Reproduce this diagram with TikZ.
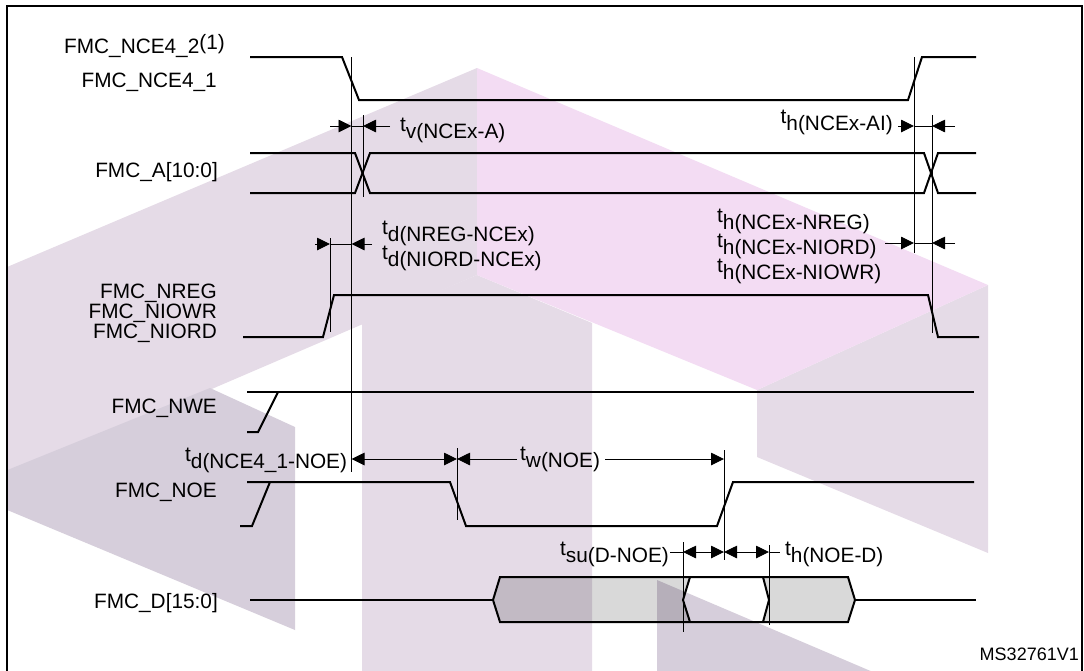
\documentclass[tikz,border=0pt]{standalone}
\usepackage{fontspec}
\setmainfont{Liberation Sans}
\usetikzlibrary{arrows.meta}
\definecolor{wmlav}{RGB}{229,219,231}
\definecolor{wmpink}{RGB}{243,220,243}
\definecolor{wmdark}{RGB}{214,206,219}
\newcommand{\tsub}[2]{#1\raisebox{-7pt}{#2}}
\begin{document}
\begin{tikzpicture}[x=1pt,y=-1pt,
  sig/.style={line width=2pt, line join=miter},
  vline/.style={line width=0.9pt},
  dimline/.style={line width=0.9pt},
  dimarr/.style={dimline, -{Triangle[length=13pt,width=12.5pt]}},
  dimarrb/.style={dimline, {Triangle[length=13pt,width=12.5pt]}-{Triangle[length=13pt,width=12.5pt]}},
  lbl/.style={inner sep=0pt, font=\fontsize{20.8pt}{24pt}\selectfont},
  smalllbl/.style={inner sep=0pt, font=\fontsize{18pt}{21pt}\selectfont},
  busfill/.style={fill=black, fill opacity=0.15}
]
\useasboundingbox (0,0) rectangle (1084,670);
% watermark
\begin{scope}
\clip (8,7) rectangle (1081,671);
\fill[wmlav] (0,270) -- (477,68) -- (477,275) -- (0,480) -- cycle;
\fill[wmlav] (362,323) -- (477,275) -- (592,323) -- (592,675) -- (362,675) -- cycle;
\fill[wmlav] (757,390) -- (988,285) -- (988,553) -- (757,457) -- cycle;
\fill[wmpink] (477,68) -- (988,285) -- (757,390) -- (477,275) -- cycle;
\fill[wmdark] (0,473) -- (210,388) -- (295,427) -- (295,630) -- (0,507) -- cycle;
\fill[wmdark] (657,580) -- (880,675) -- (657,675) -- cycle;
\end{scope}
% frame
\draw[line width=2pt] (7,675) -- (7,6) -- (1082,6) -- (1082,675);
% signals
\draw[sig] (250,57) -- (342,57) -- (359,100) -- (908,100) -- (922,57) -- (976,57);
\draw[sig] (250,153) -- (355,153) -- (370,193) -- (924,193) -- (938,153) -- (976,153);
\draw[sig] (250,193) -- (355,193) -- (370,153) -- (924,153) -- (938,193) -- (976,193);
\draw[sig] (243,337) -- (323,337) -- (334,295) -- (928,295) -- (938,337) -- (979,337);
\draw[sig] (247,392) -- (974,392);
\draw[sig] (247,432) -- (258,432) -- (278,392);
\draw[sig] (247,482) -- (450,482) -- (466,526) -- (717,526) -- (733,482) -- (974,482);
\draw[sig] (240,526) -- (252,526) -- (270,482);
% data bus
\fill[busfill] (493,600) -- (500,577) -- (690,577) -- (683,600) -- (690,622) -- (500,622) -- cycle;
\fill[busfill] (763,577) -- (848,577) -- (855,600) -- (848,622) -- (763,622) -- (769,600) -- cycle;
\draw[sig] (250,600) -- (493,600);
\draw[sig] (493,600) -- (500,577) -- (848,577) -- (855,600) -- (848,622) -- (500,622) -- cycle;
\draw[sig] (855,600) -- (976,600);
\draw[sig] (690,577) -- (683,600) -- (690,622);
\draw[sig] (763,577) -- (769,600) -- (763,622);
% marker lines
\draw[vline] (351.5,57) -- (351.5,472);
\draw[vline] (363,115) -- (363,197);
\draw[vline] (330,238) -- (330,332);
\draw[vline] (914,57) -- (914,253);
\draw[vline] (932,115) -- (932,333);
\draw[vline] (457,448) -- (457,520);
\draw[vline] (724,450) -- (724,560);
\draw[vline] (683,542) -- (683,632);
\draw[vline] (769,545) -- (769,625);
% dimension arrows
\draw[dimarr] (330,126) -- (351.5,126);
\draw[dimline] (351.5,126) -- (363,126);
\draw[dimarr] (390,126) -- (363,126);
\draw[dimarr] (315,244) -- (330,244);
\draw[dimline] (330,244) -- (351.5,244);
\draw[dimarr] (372,244) -- (351.5,244);
\draw[dimarr] (898,126) -- (914,126);
\draw[dimline] (914,126) -- (932,126);
\draw[dimarr] (955,126) -- (932,126);
\draw[dimarr] (885,243) -- (914,243);
\draw[dimline] (914,243) -- (932,243);
\draw[dimarr] (955,243) -- (932,243);
\draw[dimarrb] (351.5,459) -- (457,459);
\draw[dimarr] (517,459) -- (457,459);
\draw[dimarr] (605,459) -- (724,459);
\draw[dimline] (670,552) -- (683,552);
\draw[dimarrb] (683,552) -- (724,552);
\draw[dimarrb] (724,552) -- (769,552);
\draw[dimline] (769,552) -- (780,552);
% signal labels
\node[lbl, anchor=base east] (lnceb) at (225,53) {FMC\_NCE4\_2\raisebox{4pt}{(1)}};
\node[lbl, anchor=base east] (lncea) at (217,87) {FMC\_NCE4\_1};
\node[lbl, anchor=base east] (la) at (218,177) {FMC\_A[10:0]};
\node[lbl, anchor=base east] (lnreg) at (217,298) {FMC\_NREG};
\node[lbl, anchor=base east] (lniowr) at (217,318) {FMC\_NIOWR};
\node[lbl, anchor=base east] (lniord) at (217,338) {FMC\_NIORD};
\node[lbl, anchor=base east] (lnwe) at (217,413) {FMC\_NWE};
\node[lbl, anchor=base east] (lnoe) at (217,497) {FMC\_NOE};
\node[lbl, anchor=base east] (ld) at (218,608) {FMC\_D[15:0]};
\node[smalllbl, anchor=base east] (lms) at (1079,660) {MS32761V1};
% timing labels
\node[lbl, anchor=base west] (ttv) at (400,131) {\tsub{t}{v(NCEx-A)}};
\node[lbl, anchor=base east] (tthai) at (893,123) {\tsub{t}{h(NCEx-AI)}};
\node[lbl, anchor=base west] (ttdreg) at (382,234) {\tsub{t}{d(NREG-NCEx)}};
\node[lbl, anchor=base west] (ttdiord) at (382,259) {\tsub{t}{d(NIORD-NCEx)}};
\node[lbl, anchor=base west] (tthreg) at (717,222) {\tsub{t}{h(NCEx-NREG)}};
\node[lbl, anchor=base west] (tthiord) at (717,247) {\tsub{t}{h(NCEx-NIORD)}};
\node[lbl, anchor=base west] (tthiowr) at (717,272) {\tsub{t}{h(NCEx-NIOWR)}};
\node[lbl, anchor=base west] (ttdnoe) at (185,461) {\tsub{t}{d(NCE4\_1-NOE)}};
\node[lbl, anchor=base west] (ttw) at (520,460) {\tsub{t}{w(NOE)}};
\node[lbl, anchor=base west] (ttsu) at (560,555) {\tsub{t}{su(D-NOE)}};
\node[lbl, anchor=base west] (tthd) at (785,555) {\tsub{t}{h(NOE-D)}};
\end{tikzpicture}
\end{document}
